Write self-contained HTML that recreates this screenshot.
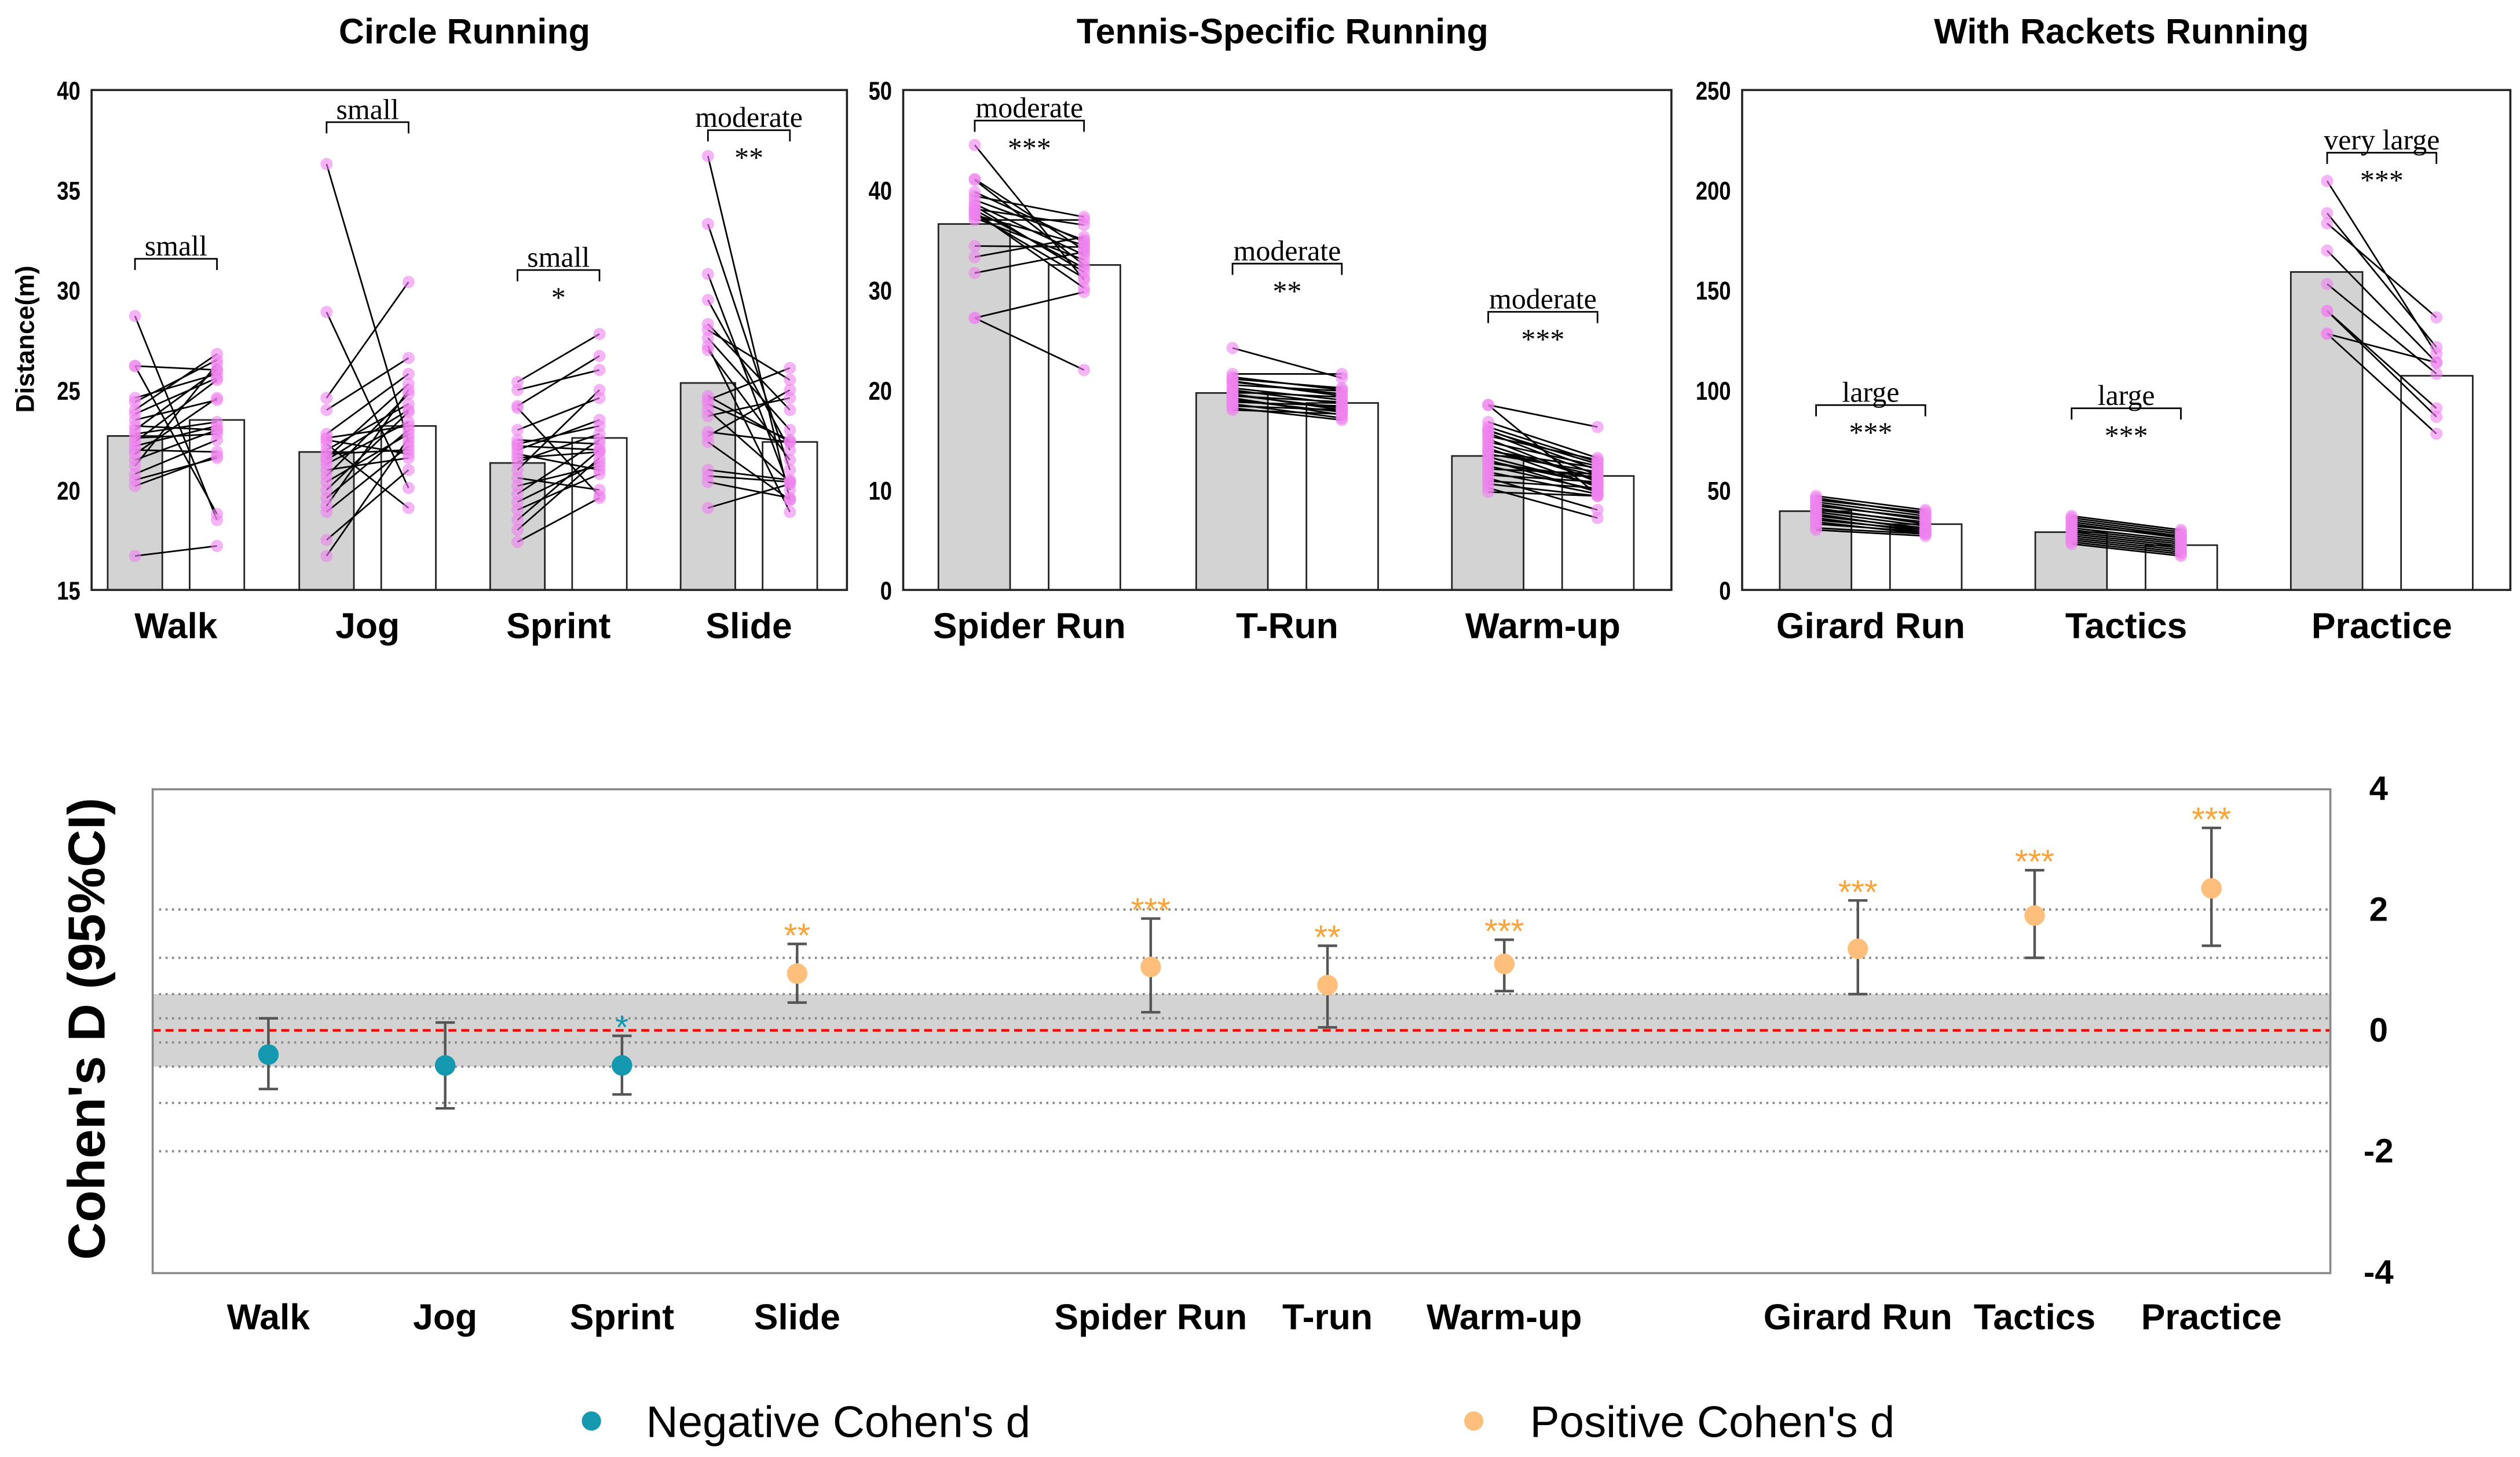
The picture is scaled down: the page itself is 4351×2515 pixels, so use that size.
<!DOCTYPE html>
<html><head><meta charset="utf-8"><style>
html,body{margin:0;padding:0;background:#fff;}
svg{display:block;}
text{font-family:"Liberation Sans",sans-serif;}
.ser{font-family:"Liberation Serif",serif;}
</style></head><body>
<svg id="fig" width="4351" height="2515" viewBox="0 0 1568 906.4" preserveAspectRatio="none" xmlns="http://www.w3.org/2000/svg">
<rect width="1568" height="906.4" fill="#fff"/>
</svg>
<script>
// ---------- DATA ----------
const p1Cats=["Walk","Jog","Sprint","Slide"];
const p1PreMean=[22.7,21.9,21.35,25.35];
const p1PostMean=[23.5,23.2,22.6,22.4];
const p1Effect=["small","small","small","moderate"];
const p1Stars=["","","*","**"];
const p1Ticks=[15,20,25,30,35,40];
const walkPre=[28.7,26.2,26.2,24.6,24.4,24.0,23.8,23.5,23.2,23.0,22.8,22.6,22.4,22.2,22.0,21.8,21.5,21.2,20.8,20.5,20.2,16.7];
const walkPost=[18.5,26.0,18.8,25.8,26.5,26.8,25.6,24.5,23.0,26.0,23.4,22.8,25.5,23.2,21.9,24.6,23.0,26.3,22.5,21.6,21.7,17.2];
const jogPre=[36.3,28.9,24.6,24.0,22.8,22.6,22.3,22.0,21.8,21.6,21.3,21.0,20.7,20.4,20.0,19.6,19.2,18.9,17.5,16.7,22.5,21.5];
const jogPost=[22.4,20.1,30.4,26.6,25.8,23.2,19.1,24.3,22.0,25.3,23.4,21.6,24.8,22.8,23.9,23.0,25.0,22.2,21.0,22.6,21.8,24.0];
const sprintPre=[25.4,25.0,24.2,24.1,23.0,22.5,22.2,22.0,21.8,21.4,21.0,20.6,20.2,19.8,19.4,19.0,18.5,18.0,17.4,22.3,21.6];
const sprintPost=[27.8,26.0,26.7,19.7,24.6,22.3,22.0,23.5,21.0,22.8,25.0,20.0,21.2,22.5,21.4,20.8,22.0,21.6,19.6,23.2,21.9];
const slidePre=[36.7,33.3,30.8,29.5,28.3,28.0,27.6,27.2,27.0,24.7,24.5,24.0,23.7,22.9,22.7,22.4,21.0,20.7,20.4,19.1,24.3];
const slidePost=[19.5,21.0,20.0,22.0,24.0,25.5,23.0,18.9,21.5,22.4,26.1,20.4,24.6,22.4,25.0,19.5,20.5,20.4,19.6,20.3,22.5];

const p2Cats=["Spider Run","T-Run","Warm-up"];
const p2PreMean=[36.6,19.7,13.4];
const p2PostMean=[32.5,18.7,11.4];
const p2Effect=["moderate","moderate","moderate"];
const p2Stars=["***","**","***"];
const p2Ticks=[0,10,20,30,40,50];
const spiderPre=[44.5,41.1,41.0,39.4,39.0,38.6,38.4,38.1,37.8,37.5,37.2,37.0,34.4,33.3,31.7,27.2,27.2,38.0,39.8,37.6];
const spiderPost=[31.0,34.0,32.5,37.3,35.0,33.5,31.8,36.5,30.2,34.5,33.0,37.0,34.3,35.3,33.8,29.8,22.0,32.2,34.8,31.2];
const trunPre=[24.2,21.6,21.1,20.8,20.5,20.2,20.0,19.8,19.6,19.4,19.2,19.0,18.8,18.6,18.4,18.2,18.0,20.9,19.5,21.3];
const trunPost=[21.2,21.6,20.2,19.6,19.9,19.0,18.6,19.3,18.0,18.8,17.5,17.8,18.4,17.2,18.0,17.0,17.6,19.4,18.2,20.0];
const warmPre=[18.5,18.5,16.8,16.3,16.0,15.7,15.4,15.1,14.8,14.5,14.2,13.9,13.6,13.3,13.0,12.7,12.4,12.1,11.8,11.5,11.2,10.9,10.6,10.2,9.8,15.9,14.0,12.9];
const warmPost=[16.3,9.5,13.2,12.8,12.0,11.5,13.0,10.8,12.4,11.0,10.3,12.2,11.8,10.5,9.8,11.2,10.0,11.6,9.6,10.8,8.0,10.2,9.4,7.2,9.4,12.6,11.4,10.6];

const p3Cats=["Girard Run","Tactics","Practice"];
const p3PreMean=[39.4,28.9,159];
const p3PostMean=[32.9,22.4,107.1];
const p3Effect=["large","large","very large"];
const p3Stars=["***","***","***"];
const p3Ticks=[0,50,100,150,200,250];
const girardPre=[47,46,45,44,43,42,41,40,39,38,37,36,35,34,33,31,30];
const girardPost=[40,38,39,37,35,36,33,34,32,30,31,29,30,28,29,28,27];
const tacticsPre=[37,36,35,34,33,32,31,30,29,28,27,26,25,24,23];
const tacticsPost=[30,29,28,27,26,27,25,24,23,22,21,20,19,18,17];
const practicePre=[204.5,188.4,183.3,169.7,153,139.5,139.5,128.1,128.1];
const practicePost=[118,121.4,136.3,113.7,108.1,90.8,86.6,113.7,78.1];

const dCats=["Walk","Jog","Sprint","Slide","Spider Run","T-run","Warm-up","Girard Run","Tactics","Practice"];
const dVal=[-0.4,-0.58,-0.58,0.94,1.05,0.75,1.1,1.35,1.9,2.35];
const dLo=[-0.97,-1.29,-1.06,0.46,0.3,0.05,0.65,0.6,1.2,1.4];
const dHi=[0.2,0.13,-0.09,1.43,1.85,1.4,1.5,2.15,2.65,3.35];
const dStars=["","","*","**","***","**","***","***","***","***"];
const dTicks=[-4,-2,0,2,4];
const dGrid=[2,1.2,0.6,0.2,-0.2,-0.6,-1.2,-2];

// ---------- HELPERS ----------
const svg=document.getElementById('fig');
const NS='http://www.w3.org/2000/svg';
function mk(tag,attrs,parent){const e=document.createElementNS(NS,tag);for(const k in attrs)e.setAttribute(k,attrs[k]);(parent||svg).appendChild(e);return e;}
function txt(s,attrs,parent){const e=mk('text',attrs,parent);e.textContent=s;return e;}

// ---------- TOP PANELS ----------
const panels=[
 {title:"Circle Running",tx:289,x0:57,x1:527,min:15,max:40,ticks:p1Ticks,cats:p1Cats,centers:[109.5,228.7,347.5,466],pre:p1PreMean,post:p1PostMean,eff:p1Effect,stars:p1Stars,bh:17,bo:8.5,dotOff:25.5,pairs:[[walkPre,walkPost],[jogPre,jogPost],[sprintPre,sprintPost],[slidePre,slidePost]],annY:[153,68,160,73]},
 {title:"Tennis-Specific Running",tx:798,x0:562,x1:1040,min:0,max:50,ticks:p2Ticks,cats:p2Cats,centers:[640.5,800.9,960],pre:p2PreMean,post:p2PostMean,eff:p2Effect,stars:p2Stars,bh:22.3,bo:12,dotOff:34,pairs:[[spiderPre,spiderPost],[trunPre,trunPost],[warmPre,warmPost]],annY:[67,156,186]},
 {title:"With Rackets Running",tx:1320,x0:1084,x1:1562,min:0,max:250,ticks:p3Ticks,cats:p3Cats,centers:[1164,1323,1482],pre:p3PreMean,post:p3PostMean,eff:p3Effect,stars:p3Stars,bh:22.3,bo:12,dotOff:34,pairs:[[girardPre,girardPost],[tacticsPre,tacticsPost],[practicePre,practicePost]],annY:[244,246,87]}
];
const yT=56,yB=367;
panels.forEach((P,pi)=>{
  const g=mk('g',{});
  
  
  const y=v=>yB-(v-P.min)/(P.max-P.min)*(yB-yT);
  const t=txt(P.title,{x:P.tx,y:27,'text-anchor':'middle','font-size':22,'font-weight':'bold'},g);
  
  
  P.ticks.forEach(v=>{
    const tk=txt(String(v),{x:P.x0-7,y:y(v)+6,'text-anchor':'end','font-size':16,'font-weight':'bold',transform:`translate(${P.x0-7},0) scale(0.82,1) translate(${-(P.x0-7)},0)`},g);
    
    
  });
  P.cats.forEach((c,i)=>{
    const cx=P.centers[i];
    const b1=mk('rect',{x:cx-P.bo-2*P.bh,y:y(P.pre[i]),width:2*P.bh,height:yB-y(P.pre[i]),fill:'#d3d3d3',stroke:'#222','stroke-width':1},g);
    
    
    const b2=mk('rect',{x:cx+P.bo,y:y(P.post[i]),width:2*P.bh,height:yB-y(P.post[i]),fill:'#fff',stroke:'#222','stroke-width':1},g);
    
    
    const [pre,post]=P.pairs[i];
    const xa=cx-P.dotOff,xb=cx+P.dotOff;
    pre.forEach((v,k)=>{
      const ln=mk('line',{x1:xa,y1:y(v),x2:xb,y2:y(post[k]),stroke:'#000','stroke-width':1},g);
      
      
    });
    pre.forEach((v,k)=>{
      const d1=mk('circle',{cx:xa,cy:y(v),r:3.8,fill:'#ee82ee','fill-opacity':0.6},g);
      
      
      const d2=mk('circle',{cx:xb,cy:y(post[k]),r:3.8,fill:'#ee82ee','fill-opacity':0.6},g);
      
      
    });
    const ay=P.annY[i];
    const et=txt(P.eff[i],{x:cx,y:ay+6,'text-anchor':'middle','font-size':18,class:'ser'},g);
    
    
    const br=mk('path',{d:`M${xa},${ay+15}V${ay+8}H${xb}V${ay+15}`,fill:'none',stroke:'#000','stroke-width':1},g);
    
    
    if(P.stars[i]){
      const st=txt(P.stars[i],{x:cx,y:ay+31,'text-anchor':'middle','font-size':18,class:'ser'},g);
      
      
    }
    const cl=txt(c,{x:cx,y:397,'text-anchor':'middle','font-size':22.5,'font-weight':'bold'},g);
    
    
  });
  const box=mk('rect',{x:P.x0,y:yT,width:P.x1-P.x0,height:yB-yT,fill:'none',stroke:'#222','stroke-width':1.3},g);
  
  
});
const yl=txt("Distance(m)",{x:0,y:0,'text-anchor':'middle','font-size':16,'font-weight':'bold',transform:'translate(21,211) rotate(-90)'});



// ---------- COHEN'S D PANEL ----------
const BX0=95,BX1=1450,BY0=491,BY1=792;
const dy=v=>641-v*37.6;
const dX=[167,277,387,496,716,826,936,1156,1266,1376];
const band=mk('rect',{x:BX0,y:dy(0.6),width:BX1-BX0,height:dy(-0.6)-dy(0.6),fill:'#d3d3d3'});


dGrid.forEach(v=>{
  const gl=mk('line',{x1:BX0+4,x2:BX1,y1:dy(v),y2:dy(v),stroke:'#888','stroke-width':1.4,'stroke-dasharray':'1.3 2.7'});
  
  
});
const zl=mk('line',{x1:BX0,x2:BX1,y1:dy(0),y2:dy(0),stroke:'#f00','stroke-width':1.6,'stroke-dasharray':'5 3'});


const fr=mk('rect',{x:BX0,y:BY0,width:BX1-BX0,height:BY1-BY0,fill:'none',stroke:'#888','stroke-width':1.3});


dTicks.forEach(v=>{
  const t=txt(String(v),{x:1480,y:dy(v)+7,'text-anchor':'middle','font-size':21,'font-weight':'bold'});
  
  
});
dCats.forEach((c,i)=>{
  const x=dX[i],pos=dVal[i]>0,col=pos?'#fdbf7b':'#1398b0',scol=pos?'#f9a33a':'#1398b0';
  const eb=mk('path',{d:`M${x},${dy(dLo[i])}V${dy(dHi[i])}M${x-6},${dy(dLo[i])}H${x+6}M${x-6},${dy(dHi[i])}H${x+6}`,stroke:'#555','stroke-width':1.6,fill:'none'});
  
  
  const pt=mk('circle',{cx:x,cy:dy(dVal[i]),r:6.4,fill:col});
  
  
  if(dStars[i]){
    const st=txt(dStars[i],{x:x,y:dy(dHi[i])+2,'text-anchor':'middle','font-size':21,fill:scol});
    
    
  }
  const cl=txt(c,{x:x,y:827,'text-anchor':'middle','font-size':22.5,'font-weight':'bold'});
  
  
});
const dyl=txt("Cohen's D (95%CI)",{x:0,y:0,'text-anchor':'middle','font-size':32.5,'font-weight':'bold',transform:'translate(65,640) rotate(-90)'});



// legend
const lg=mk('g',{});


const l1=mk('circle',{cx:368,cy:884,r:6,fill:'#1398b0'},lg);


const lt1=txt("Negative Cohen's d",{x:402,y:894,'font-size':27.5},lg);


const l2=mk('circle',{cx:917,cy:884,r:6,fill:'#fdbf7b'},lg);


const lt2=txt("Positive Cohen's d",{x:952,y:894,'font-size':27.5},lg);


</script>
</body></html>
